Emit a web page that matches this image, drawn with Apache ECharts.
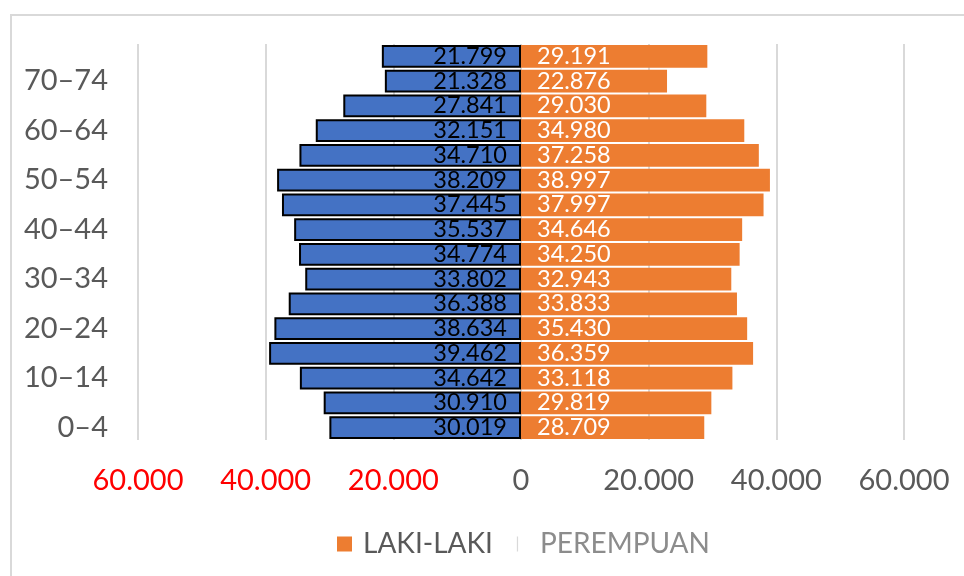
<!DOCTYPE html>
<html>
<head>
<meta charset="utf-8">
<script src="https://cdn.jsdelivr.net/npm/echarts@6/dist/echarts.min.js"></script>
<style>
  html, body { margin: 0; padding: 0; background: #fff; }
  #main { width: 964px; height: 576px; }
</style>
</head>
<body>
<div id="main"></div>
<script>
// kelompok umur, dari bawah ke atas
var ageGroups = ["0–4", "5–9", "10–14", "15–19", "20–24", "25–29", "30–34", "35–39",
  "40–44", "45–49", "50–54", "55–59", "60–64", "65–69", "70–74", "75+"];
// batang biru (kiri)
var perempuan = [30019, 30910, 34642, 39462, 38634, 36388, 33802, 34774,
  35537, 37445, 38209, 34710, 32151, 27841, 21328, 21799];
// batang oranye (kanan)
var lakiLaki = [28709, 29819, 33118, 36359, 35430, 33833, 32943, 34250,
  34646, 37997, 38997, 37258, 34980, 29030, 22876, 29191];
var xTicks = [-60000, -40000, -20000, 0, 20000, 40000, 60000];

function fmt(v) {
  return Math.abs(v).toString().replace(/\B(?=(\d{3})+(?!\d))/g, ".");
}

var myChart = echarts.init(document.getElementById("main"));
var font = "Lato, 'Open Sans', sans-serif";

var option = {
  animation: false,
  textStyle: { fontFamily: font },
  graphic: [
    {
      type: "rect",
      shape: { x: 11, y: 15, width: 990, height: 600 },
      style: { fill: "none", stroke: "#d9d9d9", lineWidth: 2 }
    }
  ],
  grid: { left: 138, right: 60, top: 44, bottom: 136 },
  legend: {
    bottom: 13,
    left: 332,
    itemWidth: 15,
    itemHeight: 15,
    itemGap: 24,
    textStyle: { fontSize: 28, fontFamily: font },
    data: [
      { name: "LAKI-LAKI", icon: "rect", textStyle: { color: "#595959", padding: [0, 0, 0, 6] } },
      {
        name: "PEREMPUAN",
        icon: "path://M0,0H1V12H0Z",
        itemStyle: { color: "#d9d9d9", borderWidth: 0 },
        textStyle: { color: "#8c8c8c", padding: [0, 0, 0, 10] }
      }
    ]
  },
  xAxis: {
    type: "value",
    min: xTicks[0],
    max: xTicks[xTicks.length - 1],
    interval: 20000,
    axisLine: { show: false },
    axisTick: { show: false },
    splitLine: { lineStyle: { color: "#d9d9d9", width: 2 } },
    axisLabel: {
      margin: 26,
      fontSize: 29,
      fontFamily: font,
      color: function (value) {
        return value < 0 ? "#ff0000" : "#595959";
      },
      formatter: function (value) {
        return fmt(value);
      }
    }
  },
  yAxis: {
    type: "category",
    data: ageGroups,
    axisLine: { show: false, onZero: false },
    axisTick: { show: false },
    axisLabel: {
      interval: 1,
      margin: 30,
      fontSize: 29,
      fontFamily: font,
      color: "#595959"
    }
  },
  series: [
    {
      name: "PEREMPUAN",
      type: "bar",
      barGap: "-100%",
      barCategoryGap: "8%",
      data: perempuan.map(function (v) { return -v; }),
      itemStyle: { color: "#4472c4", borderColor: "#000", borderWidth: 2 },
      label: {
        show: true,
        position: "insideRight",
        distance: 14,
        color: "#000",
        fontSize: 23.5,
        fontFamily: font,
        formatter: function (p) { return fmt(p.value); }
      }
    },
    {
      name: "LAKI-LAKI",
      type: "bar",
      barCategoryGap: "8%",
      data: lakiLaki,
      itemStyle: { color: "#ed7d31" },
      label: {
        show: true,
        position: "insideLeft",
        distance: 16,
        color: "#fff",
        fontSize: 23.5,
        fontFamily: font,
        formatter: function (p) { return fmt(p.value); }
      }
    }
  ]
};
myChart.setOption(option);
</script>
</body>
</html>
